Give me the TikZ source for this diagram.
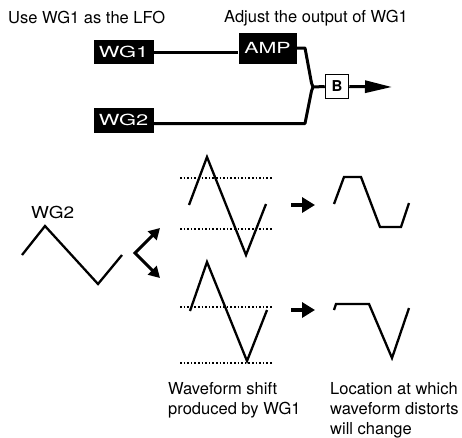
\documentclass[tikz,border=0pt]{standalone}
\usepackage{fontspec}
\setmainfont{TeX Gyre Heros}
\usetikzlibrary{arrows.meta}
\begin{document}
\begin{tikzpicture}[x=1pt,y=-1pt,
  lbl/.style={font=\fontsize{16.5}{20}\selectfont, inner sep=0pt},
  blk/.style={fill=black, text=white, inner sep=0pt, font=\fontsize{15.3}{18}\selectfont},
  wire/.style={line width=3pt, line join=round},
  wave/.style={line width=2.3pt, line join=miter},
  dots/.style={line width=1.6pt, dash pattern=on 1.6pt off 2pt},
  fat/.style={line width=4pt, -{Triangle[length=13pt,width=15pt]}},
  bent/.style={line width=3pt, {Triangle[length=11pt,width=12pt]}-{Triangle[length=11pt,width=12pt]}}
]
\useasboundingbox (0,0) rectangle (462,437);

% blocks
\node[blk, minimum width=60pt, minimum height=24pt] (wg1) at (123.5,52) {\scalebox{1.43}[1]{WG1}};
\node[blk, minimum width=58pt, minimum height=31pt] (amp) at (267.5,48) {\scalebox{1.4}[1]{AMP}};
\node[blk, minimum width=60pt, minimum height=25pt] (wg2) at (123.5,120) {\scalebox{1.43}[1]{WG2}};
\node[draw, line width=1.5pt, fill=white, minimum width=23pt, minimum height=24pt, inner sep=0pt,
      font=\bfseries\fontsize{15}{18}\selectfont] (b) at (337,86.5) {B};
\coordinate (j) at (313,87);
\coordinate (out) at (392,87);

% connectors
\draw[wire] (wg1.east) -- (wg1.east -| amp.west);
\draw[wire] (amp.east) -- (305,48) -- (311.5,83) -- (j) -- (b.west);
\draw[wire] ([yshift=-3.5pt]wg2.east) -- (305,123.5) -- (311.5,91) -- (j);
\draw[wire, -{Triangle[length=27pt,width=12pt]}] (b.east) -- (out);

% labels
\node[lbl, anchor=base west] (t1) at (8,23) {Use WG1 as the LFO};
\node[lbl, anchor=base west] (t2) at (224,22) {Adjust the output of WG1};
\node[lbl, anchor=base west] (t3) at (31,218) {\scalebox{1.15}[1]{WG2}};
\node[lbl, anchor=north west, align=left] (t4) at (168,382) {Waveform shift\\produced by WG1};
\node[lbl, anchor=north west, align=left] (t5) at (330,382) {Location at which\\waveform distorts\\will change};

% WG2 waveform
\draw[wave] (22,255) -- (45,226) -- (98,284) -- (122,255);

% bent double arrow
\coordinate (v) at (135,253);
\coordinate (up) at (160,228);
\coordinate (dn) at (160,278);
\draw[bent] (up) -- (v) -- (dn);

% upper shifted waveform
\draw[dots] (180,178) -- (273,178);
\draw[dots] (180,229) -- (273,229);
\draw[wave] (189,205) -- (207,157) -- (246,255) -- (266,204);
\draw[fat] (291,205) -- (315,205);
\draw[wave] (334,204) -- (344,177) -- (361,177) -- (380,227) -- (401,227) -- (409,203);

% lower shifted waveform
\draw[dots] (180,307) -- (273,307);
\draw[dots] (180,363) -- (273,363);
\draw[wave] (190,311) -- (207,262) -- (247,361) -- (267,310);
\draw[fat] (291,310) -- (315,310);
\draw[wave] (334,310) -- (336,304) -- (369,304) -- (392,358) -- (409,308);
\end{tikzpicture}
\end{document}
